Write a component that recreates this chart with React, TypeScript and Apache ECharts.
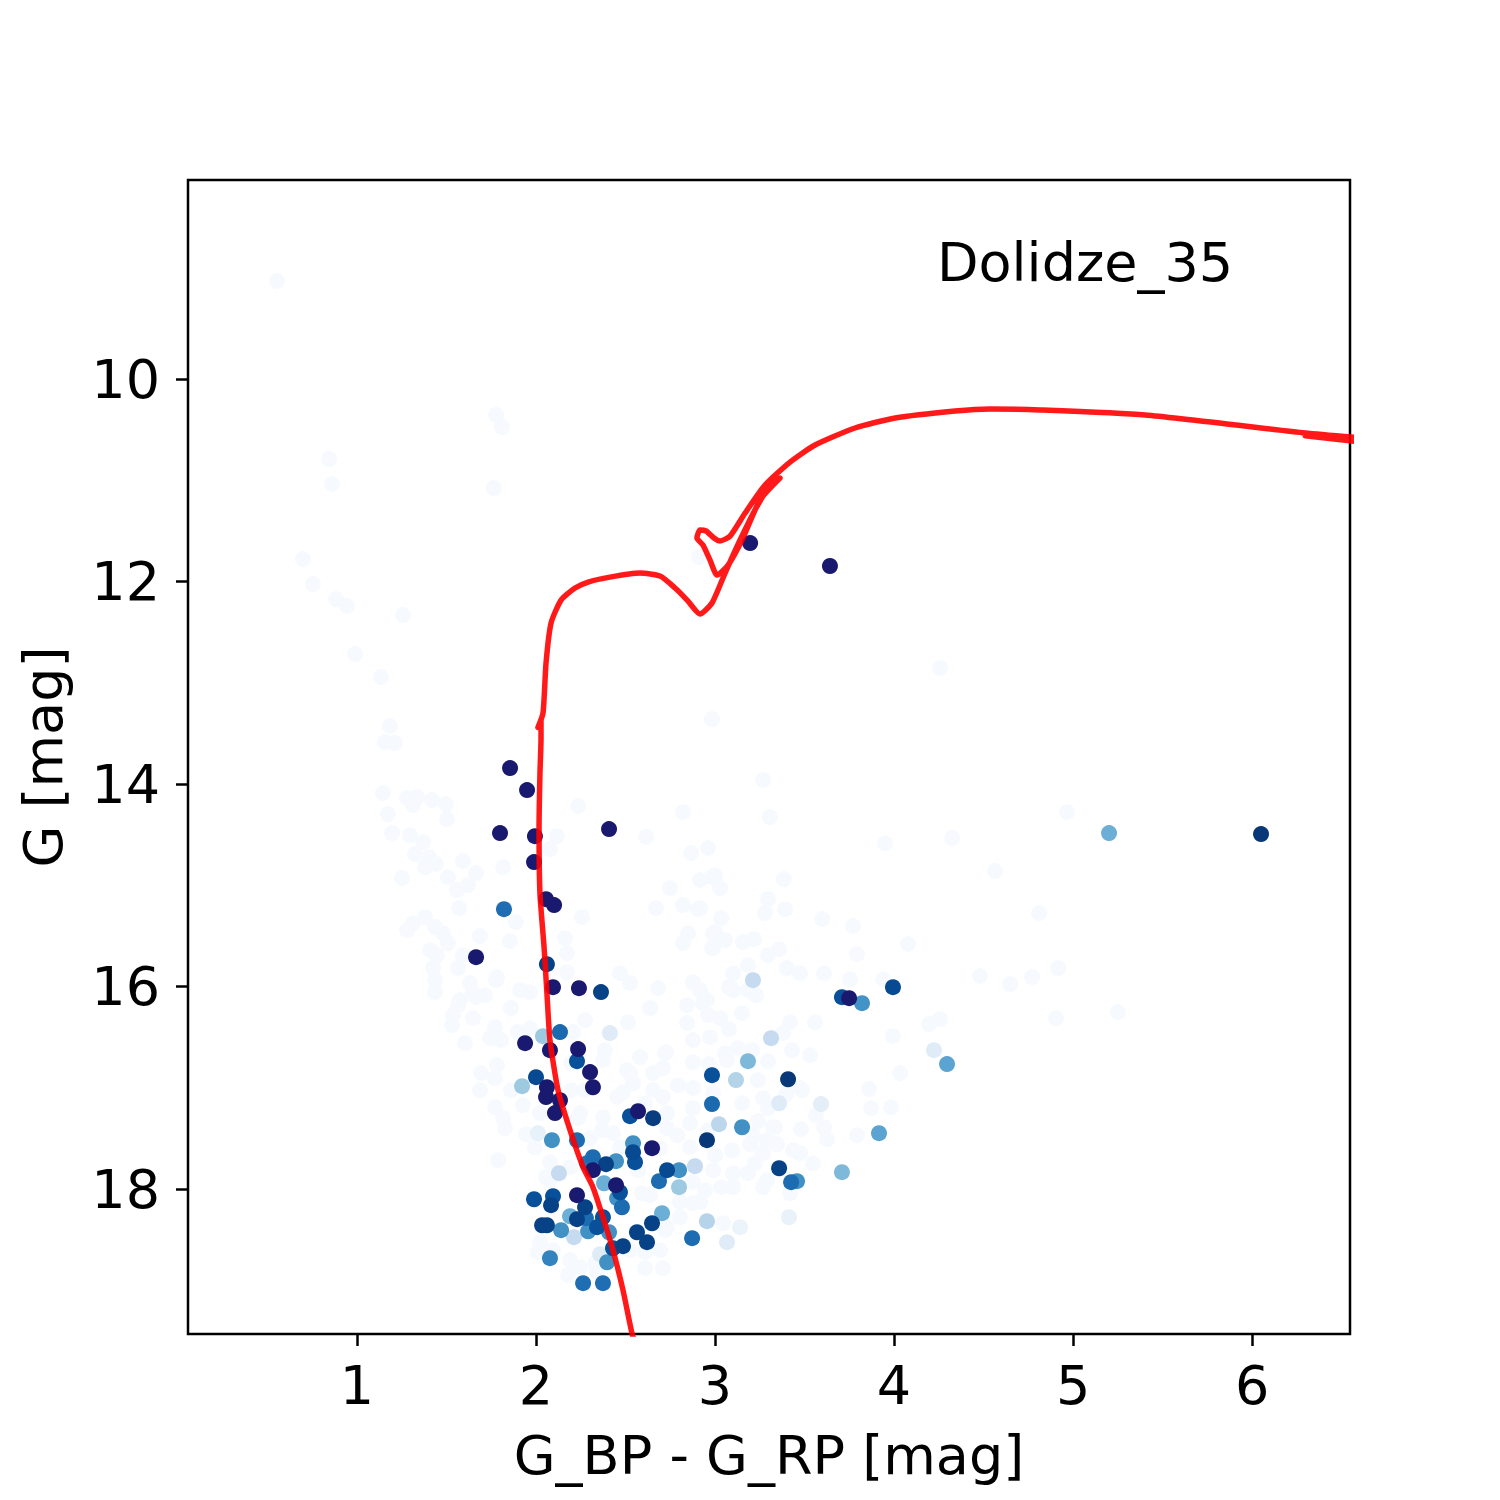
import React, { useEffect, useRef } from "react";
import * as echarts from "echarts";

const clusterName = "Dolidze_35";
const xLabel = "G_BP - G_RP [mag]";
const yLabel = "G [mag]";
const xTicks = [1, 2, 3, 4, 5, 6];
const yTicks = [10, 12, 14, 16, 18];

// Blues colormap stops
const BLUES = ["#f7fbff", "#deebf7", "#c6dbef", "#9ecae1", "#6baed6", "#4292c6", "#2171b5", "#08519c", "#08306b"];

// Stars with ~zero membership probability
const fieldStars: number[][] = [
[0.553,9.032],[1.777,10.356],[1.810,10.474],[0.844,10.790],[0.860,11.037],[1.765,11.077],[0.698,11.778],[0.754,12.025],[0.883,12.173],[0.944,12.242],[1.257,12.331],[0.989,12.716],[1.134,12.943],[1.184,13.427],[1.156,13.585],[1.212,13.595],[2.911,11.758],[4.257,12.854],[2.983,13.358],[3.268,13.960],[3.307,14.326],[2.961,14.632],[4.966,14.277],[3.950,14.583],[4.324,14.533],[4.564,14.859],[3.385,14.938],[4.810,15.274],[3.296,15.136],[3.391,15.235],[3.279,15.274],[3.598,15.333],[3.771,15.402],[4.078,15.580],[3.793,15.679],[3.028,15.027],[3.034,15.323],[2.983,14.919],[3.000,15.462],[3.056,15.541],[2.983,15.620],[3.156,15.560],[3.218,15.531],[3.358,15.630],[3.296,15.689],[3.402,15.817],[3.475,15.867],[3.609,15.867],[3.754,15.926],[3.939,15.926],[4.480,15.896],[4.648,15.975],[4.771,15.906],[4.916,15.817],[3.184,15.788],[3.101,15.867],[3.078,16.005],[2.916,15.225],[5.251,16.252],[4.905,16.311],[4.196,16.370],[4.257,16.321],[4.034,16.854],[3.994,16.489],[3.860,17.012],[3.872,17.200],[3.983,17.190],[3.793,17.467],[3.626,17.506],[3.609,17.388],[3.564,17.269],[3.480,17.407],[3.547,17.743],[3.559,16.351],[3.419,16.351],[3.380,16.459],[3.531,16.677],[3.430,16.627],[3.296,16.736],[3.151,16.262],[3.078,16.420],[3.028,16.311],[2.972,16.499],[2.966,16.765],[3.056,16.657],[3.207,16.627],[3.128,16.607],[3.184,16.035],[3.101,16.035],[2.955,16.133],[3.229,16.084],[3.486,17.022],[3.397,17.062],[3.268,17.101],[3.151,17.151],[3.296,17.200],[3.240,17.328],[3.212,17.467],[3.335,17.388],[3.346,17.556],[3.475,17.644],[3.196,17.556],[3.095,17.615],[2.989,17.812],[3.101,17.842],[3.223,17.743],[3.291,17.911],[3.000,17.664],[3.268,17.644],[3.436,17.615],[3.034,17.980],[3.045,18.336],[2.944,18.010],[3.101,17.980],[3.268,17.980],[3.419,18.040],[2.877,18.138],[2.804,18.277],[2.709,18.780],[2.609,18.780],[2.721,18.405],[2.693,18.602],[2.609,18.622],[2.525,18.602],[2.592,18.040],[2.637,18.059],[2.570,17.812],[2.916,18.128],[2.804,18.128],[2.732,18.375],
[1.145,14.089],[1.279,14.138],[1.335,14.128],[1.313,14.207],[1.419,14.158],[1.497,14.198],[1.173,14.296],[1.503,14.346],[1.196,14.484],[1.296,14.504],[1.369,14.573],[1.324,14.691],[1.402,14.721],[1.441,14.790],[1.380,14.820],[1.592,14.760],[1.251,14.928],[1.508,14.919],[1.665,14.879],[1.559,15.047],[1.620,14.998],[1.816,14.820],[2.235,14.217],[2.117,14.514],[2.078,14.642],[1.570,15.225],[1.888,15.363],[2.257,15.314],[1.380,15.314],[1.279,15.442],[1.313,15.373],[1.436,15.412],[1.508,15.570],[1.480,15.472],[1.687,15.501],[1.855,15.551],[1.408,15.640],[1.447,15.689],[1.592,15.689],[1.425,15.817],[1.564,15.817],[1.782,15.906],[2.162,15.521],[2.173,15.669],[2.173,15.857],[2.469,15.867],[2.525,15.965],[2.821,14.277],[2.615,14.523],[2.866,14.681],[2.749,15.027],[2.670,15.225],[2.821,15.195],[2.905,15.235],[2.916,14.948],[3.000,14.899],[2.849,15.472],[2.821,15.570],[2.989,15.472],[2.989,15.620],[2.682,16.015],[2.877,15.956],[2.916,16.035],[1.436,15.936],[1.436,16.054],[1.648,16.064],[1.911,16.035],[1.966,16.054],[1.575,16.133],[1.631,15.965],[1.777,15.936],[1.564,16.183],[1.648,16.311],[1.665,16.104],[1.536,16.281],[1.531,16.380],[1.860,16.212],[1.771,16.400],[1.743,16.509],[1.804,16.528],[1.899,16.449],[1.966,16.410],[2.207,16.449],[1.603,16.558],[1.782,16.775],[1.693,16.854],[1.771,16.904],[1.687,17.022],[1.860,17.022],[1.927,17.170],[1.771,17.190],[1.816,17.299],[1.827,17.398],[1.944,17.457],[2.078,17.733],[1.788,17.714],[2.190,17.783],[2.056,17.881],[2.022,18.523],[2.095,18.602],[2.179,18.849],[2.246,18.770],[2.274,16.331],[2.196,16.756],[2.196,17.022],[2.246,17.249],[2.274,17.022],[1.715,16.084],[2.514,16.351],[2.637,16.212],[2.844,16.183],[2.933,16.163],[2.961,16.281],[2.844,16.360],[2.726,16.647],[2.877,16.528],[2.581,16.696],[2.374,16.726],[2.385,16.627],[2.508,16.825],[2.654,16.854],[2.709,16.805],[2.793,16.973],[2.877,17.002],[2.654,17.022],[2.486,17.042],[2.453,17.091],[2.542,16.953],[1.994,17.585],[2.022,17.249],[2.235,17.299],[2.374,17.289],[2.369,17.417],[2.430,17.447],[2.302,17.496],[2.469,17.585],[2.709,17.091],[2.732,17.398],[2.788,17.467],[2.860,17.348],[2.860,17.585],[2.693,17.595],[2.961,17.417],[2.732,17.249],[2.609,17.151],[2.877,17.200],[2.078,17.911],[2.011,18.622],[2.190,18.701],[2.341,18.820],[2.330,18.731],[2.877,17.931],[2.721,16.657],[2.877,16.746],[3.067,16.726],[2.525,16.854],[2.989,17.052],[3.240,16.923],[3.475,17.002],[3.324,17.388],[3.291,17.516],[3.184,17.842]
];

// Stars coloured by membership probability: [colour, G, probability]
const weightedStars: number[][] = [
[5.201,14.484,0.5],[6.050,14.494,0.97],[3.994,16.005,0.9],[3.709,16.104,0.88],[3.821,16.163,0.62],[3.212,15.936,0.25],[3.313,16.509,0.25],[3.184,16.736,0.45],[3.117,16.923,0.31],[2.983,16.874,0.88],[3.408,16.914,0.97],[4.296,16.765,0.55],[4.223,16.627,0.12],[2.983,17.160,0.78],[3.022,17.358,0.28],[3.151,17.388,0.63],[2.955,17.516,0.97],[3.358,17.793,0.93],[3.458,17.921,0.63],[3.425,17.931,0.77],[3.916,17.447,0.55],[3.709,17.832,0.45],
[1.821,15.235,0.76],[2.061,15.778,0.93],[2.363,16.054,0.93],[2.134,16.449,0.78],[2.039,16.489,0.375],[2.229,16.736,0.88],[2.000,16.894,0.9],[1.922,16.983,0.375],[2.525,17.279,0.88],[2.654,17.299,0.95],[2.413,16.459,0.12],[2.089,17.516,0.63],[2.229,17.516,0.77],[2.542,17.546,0.63],[2.542,17.635,0.9],[2.553,17.733,0.88],[2.318,17.684,0.77],[2.285,17.743,0.75],[2.391,17.753,0.93],[2.447,17.723,0.63],[2.732,17.812,0.9],[2.799,17.812,0.63],[2.888,17.773,0.25],[2.128,17.842,0.25],[2.380,17.941,0.5],[2.469,18.030,0.88],[2.453,18.089,0.63],[2.095,18.069,0.88],[1.989,18.099,0.88],[2.084,18.158,0.93],[2.274,18.178,0.93],[2.480,18.178,0.77],[2.687,17.921,0.77],[2.799,17.980,0.375],[2.704,18.237,0.5],[2.955,18.316,0.3],[2.648,18.336,0.93],[2.564,18.425,0.93],[2.620,18.523,0.93],[2.872,18.484,0.77],[2.190,18.267,0.5],[2.229,18.296,0.93],[2.279,18.286,0.77],[2.374,18.277,0.88],[2.341,18.375,0.88],[2.408,18.425,0.63],[2.291,18.415,0.63],[2.034,18.356,0.93],[2.061,18.356,0.93],[2.140,18.405,0.63],[2.212,18.474,0.25],[2.486,18.563,0.93],[2.430,18.583,0.88],[2.358,18.642,0.12],[2.397,18.721,0.63],[2.078,18.681,0.68],[2.263,18.928,0.76],[2.374,18.928,0.76],
[2.011,17.447,0.08],[3.067,18.523,0.12],[3.140,18.375,0.06],[3.413,18.277,0.07],[3.358,17.151,0.12],[3.592,17.160,0.1]
];

// High-probability members
const members: number[][] = [
[3.196,11.620],[3.642,11.847],[1.855,13.842],[1.950,14.059],[1.799,14.484],[1.994,14.514],[2.408,14.444],[1.989,14.770],[2.056,15.136],[2.101,15.195],[1.665,15.709],[2.095,16.005],[2.240,16.015],[1.939,16.558],[2.078,16.627],[2.235,16.617],[2.302,16.844],[2.318,16.993],[2.061,16.993],[2.056,17.091],[2.134,17.121],[2.106,17.249],[2.570,17.230],[2.648,17.595],[2.318,17.812],[3.749,16.114],[2.447,17.960],[2.229,18.059]
];

// Isochrone (colour, G)
const isochrone: number[][] = [
[2.56,19.55],[2.536,19.422],[2.486,18.998],[2.430,18.602],[2.374,18.277],[2.318,17.980],[2.263,17.783],[2.190,17.417],[2.123,17.022],[2.078,16.528],[2.061,16.064],[2.045,15.610],[2.022,15.077],[2.017,14.425],[2.022,13.9],[2.028,13.55],[2.028,13.37],[2.011,13.44],[2.039,13.30],[2.056,12.805],[2.084,12.410],[2.140,12.183],[2.218,12.064],[2.291,12.005],[2.413,11.956],[2.581,11.916],[2.693,11.946],[2.777,12.064],[2.844,12.183],[2.916,12.321],[2.983,12.212],[3.056,11.916],[3.140,11.590],[3.223,11.294],[3.291,11.096],[3.363,10.978],[3.251,11.195],[3.151,11.590],[3.073,11.837],[3.011,11.936],[2.972,11.788],[2.933,11.640],[2.899,11.570],[2.916,11.491],[2.950,11.501],[2.994,11.570],[3.028,11.600],[3.084,11.551],[3.168,11.323],[3.279,11.047],[3.419,10.820],[3.559,10.652],[3.782,10.484],[4.006,10.385],[4.341,10.316],[4.536,10.296],[4.816,10.306],[5.402,10.356],[6.296,10.533],[6.6,10.58],[6.296,10.56],[6.6,10.62]
];

const FONT = "DejaVu Sans";
const FS = 54;

export default function App() {
  const ref = useRef<HTMLDivElement>(null);
  useEffect(() => {
    const chart = echarts.init(ref.current as HTMLDivElement, null, { renderer: "svg" });
    const weightedSorted = [...weightedStars].sort((a, b) => a[2] - b[2]);
    chart.setOption({
      animation: false,
      grid: { left: 188, top: 180, width: 1162, height: 1154, show: true, borderColor: "#000", borderWidth: 2.5 },
      xAxis: {
        type: "value", min: 0.056, max: 6.547,
        axisLine: { show: false },
        axisTick: { show: true, customValues: xTicks, length: 12, lineStyle: { color: "#000", width: 2.5 } },
        axisLabel: { customValues: xTicks, fontSize: FS, fontFamily: FONT, color: "#000", margin: 24 },
        splitLine: { show: false },
        name: xLabel, nameLocation: "middle", nameGap: 94,
        nameTextStyle: { fontSize: FS, fontFamily: FONT, color: "#000" },
      },
      yAxis: {
        type: "value", min: 8.035, max: 19.43, inverse: true,
        axisLine: { show: false },
        axisTick: { show: true, customValues: yTicks, length: 12, lineStyle: { color: "#000", width: 2.5 } },
        axisLabel: { customValues: yTicks, fontSize: FS, fontFamily: FONT, color: "#000", margin: 28 },
        splitLine: { show: false },
        name: yLabel, nameLocation: "middle", nameGap: 118, nameRotate: 90,
        nameTextStyle: { fontSize: FS, fontFamily: FONT, color: "#000" },
      },
      visualMap: {
        type: "continuous", show: false, dimension: 2, seriesIndex: 1, min: 0, max: 1,
        inRange: { color: BLUES },
      },
      graphic: [
        {
          type: "text", x: 937, y: 262,
          style: { text: clusterName, font: `${FS}px "${FONT}"`, fill: "#000", verticalAlign: "middle", align: "left" },
        },
      ],
      series: [
        { type: "scatter", data: fieldStars, symbolSize: 16, itemStyle: { color: "#f6faff", opacity: 1 }, silent: true, z: 2 },
        { type: "scatter", data: weightedSorted, symbolSize: 16, itemStyle: { opacity: 1 }, silent: true, z: 3 },
        { type: "scatter", data: members, symbolSize: 16, itemStyle: { color: "#191970", opacity: 1 }, silent: true, z: 4 },
        {
          type: "line", data: isochrone, showSymbol: false, symbol: "none", silent: true, z: 5, smooth: 0.2,
          lineStyle: { color: "rgba(255,0,0,0.9)", width: 5.5, cap: "round", join: "round" },
        },
      ],
    });
    return () => chart.dispose();
  }, []);
  return <div ref={ref} style={{ position: "absolute", left: 0, top: 0, width: 1500, height: 1500 }} />;
}
